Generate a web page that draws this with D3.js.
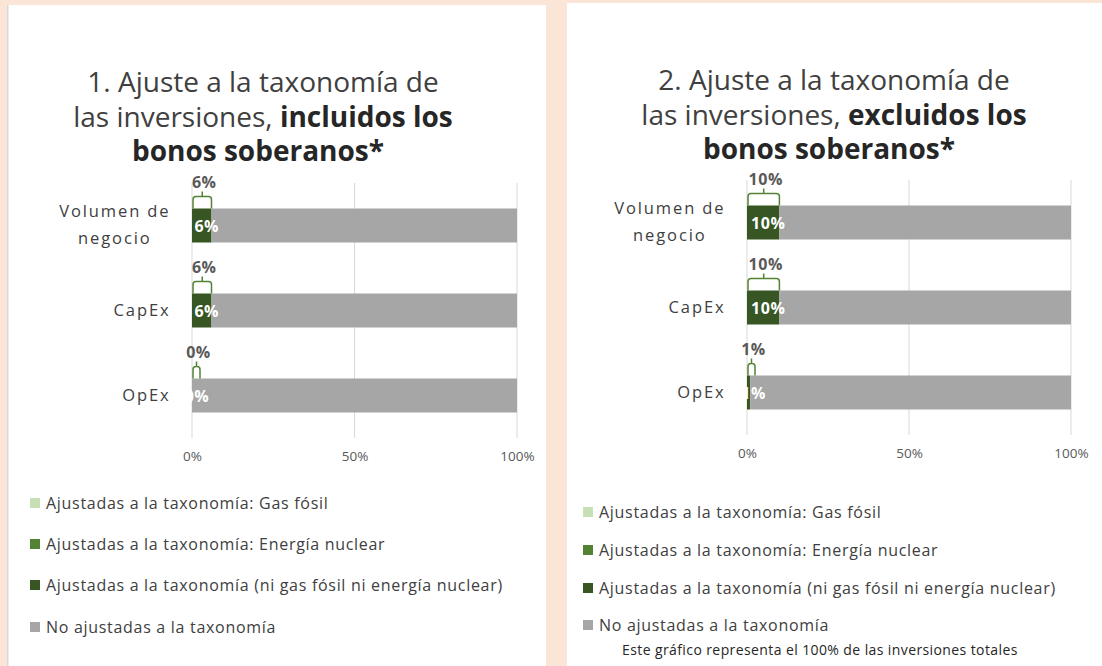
<!DOCTYPE html>
<html>
<head>
<meta charset="utf-8">
<title>Ajuste a la taxonomía</title>
<style>
  body { margin: 0; background: #fbe5d6; }
  svg { display: block; }
  text { font-family: "Open Sans", Lato, sans-serif; }
</style>
</head>
<body>
<svg width="1102" height="666"></svg>
<script src="https://d3js.org/d3.v7.min.js"></script>
<script>
// categories and series
const categories = ["Volumen de negocio", "CapEx", "OpEx"];
const categoryLines = [["Volumen de", "negocio"], ["CapEx"], ["OpEx"]];
const seriesKeys = ["gas", "nuclear", "other", "notAligned"];
const seriesNames = [
  "Ajustadas a la taxonomía: Gas fósil",
  "Ajustadas a la taxonomía: Energía nuclear",
  "Ajustadas a la taxonomía (ni gas fósil ni energía nuclear)",
  "No ajustadas a la taxonomía"
];
const seriesColors = ["#c5e0b4", "#548235", "#375623", "#a6a6a6"];

// 1. incluidos los bonos soberanos
const gasIncl = [0, 0, 0];
const nuclearIncl = [0, 0, 0];
const otherIncl = [6, 6, 0];
const notAlignedIncl = [94, 94, 100];

// 2. excluidos los bonos soberanos
const gasExcl = [0, 0, 0];
const nuclearExcl = [0, 0, 0];
const otherExcl = [10, 10, 1];
const notAlignedExcl = [90, 90, 99];

const xTicks = [0, 50, 100];
const footnote = "Este gráfico representa el 100% de las inversiones totales";

var svg = d3.select('svg');

function rows(gas, nuclear, other, notAligned) {
  return categories.map((c, i) => ({
    cat: c, gas: gas[i], nuclear: nuclear[i], other: other[i], notAligned: notAligned[i]
  }));
}

function drawPanel(p) {
  var g = svg.append('g');

  // white card
  g.append('rect').attr('x', p.box[0]).attr('y', p.box[1])
    .attr('width', p.box[2]).attr('height', p.box[3]).attr('fill', 'white');
  if (p.shadow) {
    g.append('rect').attr('x', p.box[0] - 1).attr('y', p.box[1])
      .attr('width', 1.5).attr('height', p.box[3]).attr('fill', '#d9d9d9');
  }

  // title
  var title = g.append('text').attr('text-anchor', 'middle')
    .attr('font-size', 28).attr('fill', '#404040');
  title.append('tspan').attr('x', p.titleX).attr('y', p.titleY)
    .text(p.titleNum + ' Ajuste a la taxonomía de');
  var l2 = title.append('tspan').attr('x', p.titleX).attr('y', p.titleY + 35);
  l2.append('tspan').text('las inversiones, ');
  l2.append('tspan').attr('font-weight', 'bold').attr('fill', '#262626').text(p.titleBold + ' los');
  title.append('tspan').attr('x', p.titleX - 5).attr('y', p.titleY + 69)
    .attr('font-weight', 'bold').attr('fill', '#262626').text('bonos soberanos*');

  var x = d3.scaleLinear().domain([0, 100]).range([p.x0, p.x1]);
  var y = d3.scaleBand().domain(categories).range([p.y0, p.y1])
    .paddingInner(0.6).paddingOuter(0.3);

  // gridlines
  g.append('g').selectAll('line').data(xTicks).join('line')
    .attr('x1', d => x(d)).attr('x2', d => x(d))
    .attr('y1', p.y0).attr('y2', p.y1)
    .attr('stroke', '#d9d9d9').attr('stroke-width', 1);

  // x axis labels
  var xAxis = g.append('g').attr('transform', `translate(0,${p.y1 + 10})`)
    .call(d3.axisBottom(x).tickValues(xTicks).tickFormat(d => d + '%').tickSize(0));
  xAxis.select('.domain').remove();
  xAxis.selectAll('text').attr('font-size', 13.5).attr('fill', '#595959')
    .style('font-family', '"Open Sans", Lato, sans-serif');

  // category labels
  var catG = g.append('g');
  categories.forEach((c, i) => {
    var lines = categoryLines[i];
    var cy = y(c) + y.bandwidth() / 2;
    var t = catG.append('text').attr('font-size', 16.5).attr('fill', '#404040')
      .attr('letter-spacing', 1.9).attr('text-anchor', 'middle');
    lines.forEach((ln, j) => {
      t.append('tspan').text(ln).attr('x', 0)
        .attr('y', cy + 5 + (j - (lines.length - 1) / 2) * 27);
    });
    // right-align the block at the label edge
    var w = t.node().getBBox().width;
    t.selectAll('tspan').attr('x', p.labelRight + 1.5 - w / 2);
  });

  // stacked bars
  var data = rows(p.gas, p.nuclear, p.other, p.notAligned);
  var stacked = d3.stack().keys(seriesKeys)(data);
  g.append('g').selectAll('g').data(stacked).join('g')
    .attr('fill', (d, i) => seriesColors[i])
    .selectAll('rect').data(d => d).join('rect')
    .attr('x', d => x(d[0])).attr('width', d => x(d[1]) - x(d[0]))
    .attr('y', d => y(d.data.cat)).attr('height', y.bandwidth());

  // value labels inside the aligned segment
  var otherLayer = stacked[2];
  g.append('g').selectAll('text').data(otherLayer).join('text')
    .attr('x', d => (x(d[0]) + x(d[1])) / 2 + 5)
    .attr('y', d => y(d.data.cat) + y.bandwidth() / 2 + 6)
    .attr('text-anchor', 'middle').attr('font-size', 16).attr('font-weight', 'bold')
    .attr('letter-spacing', 0.5).attr('fill', 'white').text(d => Math.round(d[1] - d[0]) + '%');

  // brackets with total aligned share
  var aligned = data.map(d => ({ cat: d.cat, v: d.gas + d.nuclear + d.other }));
  var br = g.append('g');
  aligned.forEach(a => {
    var xl = x(0) + 1, xr = Math.max(x(a.v), x(0) + 8);
    var top = y(a.cat), yh = top - 12, ys = top - 17, xm = (xl + xr) / 2, r = 3;
    var path = d3.path();
    path.moveTo(xl, top);
    path.lineTo(xl, yh + r);
    path.quadraticCurveTo(xl, yh, xl + r, yh);
    path.lineTo(xr - r, yh);
    path.quadraticCurveTo(xr, yh, xr, yh + r);
    path.lineTo(xr, top);
    path.moveTo(xm, yh);
    path.lineTo(xm, ys);
    br.append('path').attr('d', path.toString()).attr('fill', 'none')
      .attr('stroke', '#548235').attr('stroke-width', 1.5);
    br.append('text').attr('x', xm + 2).attr('y', top - 21)
      .attr('text-anchor', 'middle').attr('font-size', 16).attr('font-weight', 'bold')
      .attr('letter-spacing', 0.5).attr('fill', '#595959').text(Math.round(a.v) + '%');
  });

  // legend
  var lg = g.append('g').selectAll('g').data(seriesNames).join('g')
    .attr('transform', (d, i) => `translate(${p.legendX},${p.legendY[i]})`);
  lg.append('rect').attr('x', 0).attr('y', -5).attr('width', 10).attr('height', 10)
    .attr('fill', (d, i) => seriesColors[i]);
  lg.append('text').attr('x', 16).attr('y', 6).attr('font-size', 16)
    .attr('letter-spacing', 0.7).attr('fill', '#404040').text(d => d);

  if (p.footnote) {
    g.append('text').attr('x', p.footnoteX).attr('y', p.footnoteY)
      .attr('font-size', 14).attr('letter-spacing', 0.4)
      .attr('fill', '#262626').text(footnote);
  }
}

drawPanel({
  box: [8, 5, 538, 661], shadow: true,
  titleX: 263, titleY: 92, titleNum: '1.', titleBold: 'incluidos',
  x0: 192, x1: 517, y0: 183, y1: 438, labelRight: 169,
  gas: gasIncl, nuclear: nuclearIncl, other: otherIncl, notAligned: notAlignedIncl,
  legendX: 30, legendY: [503, 544, 585, 627]
});

drawPanel({
  box: [567, 3, 535, 663], shadow: false,
  titleX: 834, titleY: 90, titleNum: '2.', titleBold: 'excluidos',
  x0: 747, x1: 1071, y0: 180, y1: 435, labelRight: 724,
  gas: gasExcl, nuclear: nuclearExcl, other: otherExcl, notAligned: notAlignedExcl,
  legendX: 583, legendY: [512, 550, 588, 625],
  footnote: true, footnoteX: 622, footnoteY: 655
});
</script>
</body>
</html>
